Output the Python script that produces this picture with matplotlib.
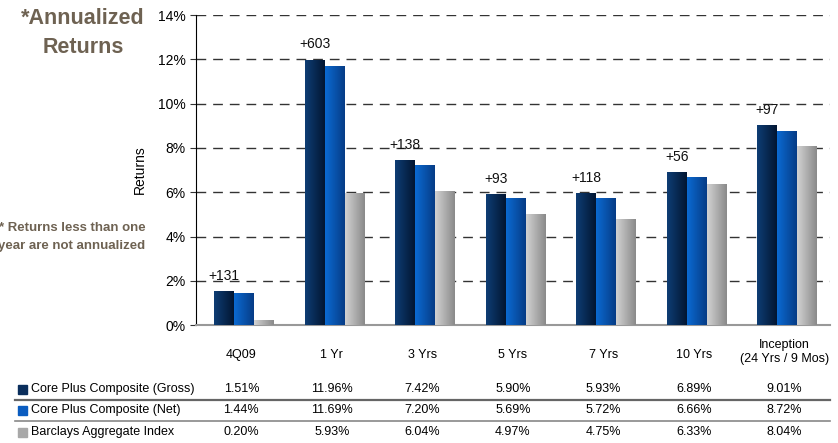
import numpy as np
import matplotlib
matplotlib.use('Agg')
import matplotlib.pyplot as plt
from matplotlib.colors import LinearSegmentedColormap
from matplotlib.transforms import blended_transform_factory
from matplotlib.lines import Line2D

plt.rcParams['font.family'] = ['Liberation Sans', 'DejaVu Sans']

categories = ['4Q09', '1 Yr', '3 Yrs', '5 Yrs', '7 Yrs', '10 Yrs', 'Inception\n(24 Yrs / 9 Mos)']
gross = [1.51, 11.96, 7.42, 5.90, 5.93, 6.89, 9.01]
net = [1.44, 11.69, 7.20, 5.69, 5.72, 6.66, 8.72]
index = [0.20, 5.93, 6.04, 4.97, 4.75, 6.33, 8.04]
excess = ['+131', '+603', '+138', '+93', '+118', '+56', '+97']
series_names = ['Core Plus Composite (Gross)', 'Core Plus Composite (Net)', 'Barclays Aggregate Index']

grads = [('#0e3d74', '#021632'), ('#0b6ad2', '#063c86'), ('#d2d2d2', '#8a8a8a')]
solid = ['#0a2e5c', '#0a5cc0', '#a8a8a8']

fig = plt.figure(figsize=(8.38, 4.43), dpi=100)
ax = fig.add_axes([0.234, 0.266, 0.756, 0.700])

x = np.arange(len(categories))
w = 0.22
grad = np.linspace(0, 1, 64).reshape(1, -1)
for i, vals in enumerate([gross, net, index]):
    cmap = LinearSegmentedColormap.from_list('g%d' % i, grads[i])
    bars = ax.bar(x + (i - 1) * w + 0.03, vals, width=w, color='none', zorder=3)
    for b in bars:
        x0, y0 = b.get_x(), b.get_y()
        ax.imshow(grad, cmap=cmap, aspect='auto', zorder=3,
                  extent=[x0, x0 + b.get_width(), y0, y0 + b.get_height()])

ax.set_xlim(-0.5, len(categories) - 0.5)
ax.set_ylim(0, 14)
ax.set_yticks(np.arange(0, 15, 2))
ax.set_yticklabels(['%d%%' % v for v in range(0, 15, 2)], fontsize=10)
ax.set_xticks([])
for v in range(2, 15, 2):
    ax.axhline(v, color='#333333', lw=1, ls=(0, (7, 5)), zorder=1)
ax.spines['top'].set_visible(False)
ax.spines['right'].set_visible(False)
ax.spines['bottom'].set_color('#999999')
ax.spines['bottom'].set_linewidth(1.5)
ax.tick_params(axis='y', direction='out', length=4, color='#333333')
ax.set_ylabel('Returns', fontsize=10, labelpad=8)

for xi, g, lab in zip(x, gross, excess):
    ax.text(xi - w + 0.03, g + 0.4, lab, ha='center', va='bottom', fontsize=10, color='#111111', zorder=4)

tr = blended_transform_factory(ax.transData, fig.transFigure)
for xi, c in zip(x, categories):
    if '\n' in c:
        ax.text(xi, 1 - 352 / 443, c, transform=tr, ha='center', va='center', fontsize=9, linespacing=1.3)
    else:
        ax.text(xi, 1 - 355 / 443, c, transform=tr, ha='center', va='center', fontsize=9)

row_y = [389, 410, 432]
for r, vals in enumerate([gross, net, index]):
    yy = 1 - row_y[r] / 443
    fig.patches.append(plt.Rectangle((18 / 838, yy - 0.012), 9 / 838, 9 / 443,
                                     transform=fig.transFigure, color=solid[r]))
    fig.text(31 / 838, yy, series_names[r], ha='left', va='center', fontsize=9)
    for xi, v in zip(x, vals):
        ax.text(xi, yy, '%.2f%%' % v, transform=tr, ha='center', va='center', fontsize=9)

fig.add_artist(Line2D([15 / 838, 830 / 838], [1 - 400 / 443] * 2, transform=fig.transFigure, color='#666666', lw=1.6))
fig.add_artist(Line2D([15 / 838, 830 / 838], [1 - 421 / 443] * 2, transform=fig.transFigure, color='#888888', lw=1.2))

brown = '#6e6252'
fig.text(83 / 838, 1 - 33 / 443, '*Annualized\nReturns', ha='center', va='center', fontsize=15.5,
         fontweight='bold', color=brown, linespacing=1.45)
fig.text(72 / 838, 1 - 237 / 443, '* Returns less than one\nyear are not annualized', ha='center', va='center',
         fontsize=9.5, fontweight='bold', color=brown, linespacing=1.6)

plt.savefig('out.png', dpi=100)
